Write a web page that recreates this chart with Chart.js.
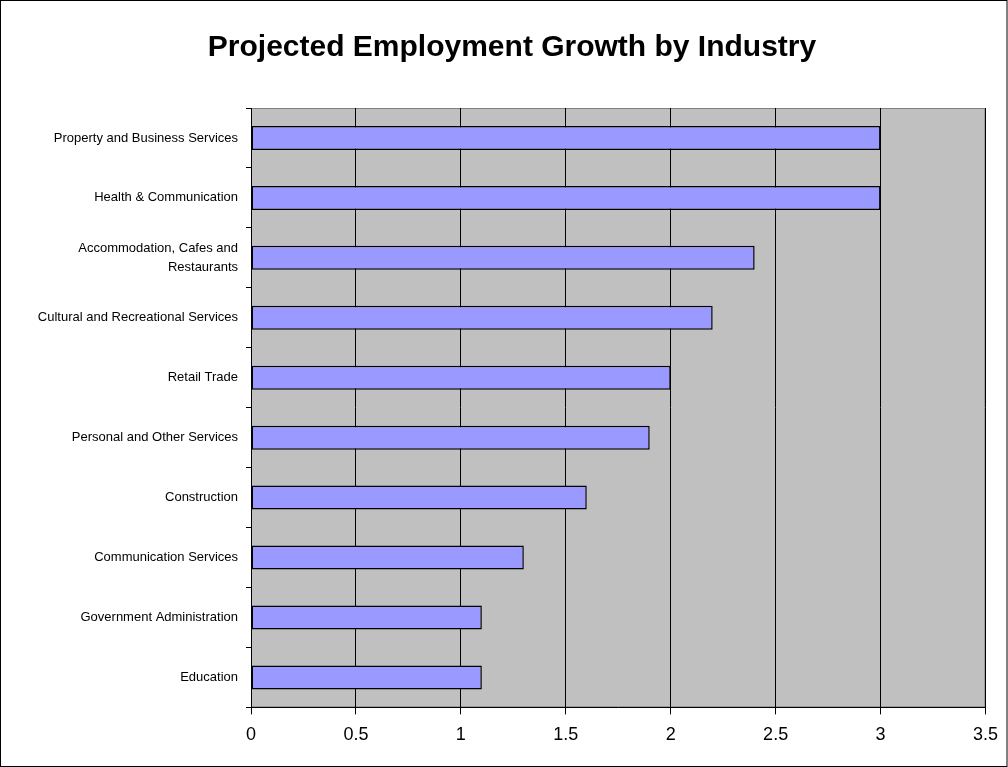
<!DOCTYPE html>
<html>
<head>
<meta charset="utf-8">
<script src="https://cdn.jsdelivr.net/npm/chart.js@4"></script>
<style>
  html, body { margin: 0; padding: 0; background: #fff; }
  #wrap { width: 1008px; height: 767px; }
</style>
</head>
<body>
<div id="wrap"><canvas id="chartGrowth" width="1008" height="767"></canvas></div>
<script>
'use strict';

const industries = [
  'Property and Business Services',
  'Health & Communication',
  ['Accommodation, Cafes and', 'Restaurants'],
  'Cultural and Recreational Services',
  'Retail Trade',
  'Personal and Other Services',
  'Construction',
  'Communication Services',
  'Government Administration',
  'Education'
];
const growth = [3, 3, 2.4, 2.2, 2, 1.9, 1.6, 1.3, 1.1, 1.1];
const xTicks = [0, 0.5, 1, 1.5, 2, 2.5, 3, 3.5];

// gray plot area + frame around the whole figure
const plotBackground = {
  id: 'plotBackground',
  beforeDraw: function(chart) {
    const ctx = chart.ctx;
    const a = chart.chartArea;
    ctx.save();
    ctx.fillStyle = '#c0c0c0';
    ctx.fillRect(a.left, a.top, a.right - a.left, a.bottom - a.top);
    ctx.strokeStyle = '#808080';
    ctx.lineWidth = 1;
    ctx.strokeRect(a.left + 0.5, a.top + 0.5, a.right - a.left - 1, a.bottom - a.top - 1);
    ctx.strokeStyle = '#000';
    ctx.strokeRect(0.5, 0.5, chart.width - 1.5, chart.height - 1);
    ctx.restore();
  }
};

const config = {
  type: 'bar',
  data: {
    labels: industries,
    datasets: [{
      label: 'Growth',
      data: growth,
      backgroundColor: '#9999ff',
      borderColor: '#000',
      borderWidth: 1.5,
      borderSkipped: false,
      categoryPercentage: 1,
      barPercentage: 0.4
    }]
  },
  options: {
    indexAxis: 'y',
    responsive: false,
    animation: false,
    layout: {
      padding: { left: 38, right: 22, top: 0, bottom: 11 }
    },
    plugins: {
      legend: { display: false },
      tooltip: { enabled: false },
      title: {
        display: true,
        text: 'Projected Employment Growth by Industry',
        color: '#000',
        font: { family: 'Liberation Sans, Arial, sans-serif', size: 30, weight: 'bold' },
        padding: { top: 30, bottom: 42 }
      }
    },
    scales: {
      x: {
        min: 0,
        max: 3.5,
        afterBuildTicks: function(scale) {
          scale.ticks = xTicks.map(v => ({ value: v }));
        },
        ticks: {
          color: '#000',
          padding: 10,
          font: { family: 'Liberation Sans, Arial, sans-serif', size: 18 },
          callback: function(v) { return String(v); }
        },
        grid: {
          color: '#000',
          lineWidth: 1,
          tickLength: 7,
          drawOnChartArea: true
        },
        border: { color: '#000', width: 1 }
      },
      y: {
        offset: true,
        afterFit: function(scale) { scale.width = 213; },
        ticks: {
          color: '#000',
          padding: 8,
          font: { family: 'Liberation Sans, Arial, sans-serif', size: 13, lineHeight: 1.4 }
        },
        grid: {
          offset: true,
          color: '#000',
          drawOnChartArea: false,
          tickLength: 5
        },
        border: { color: '#000', width: 1 }
      }
    }
  },
  plugins: [plotBackground]
};

const chartGrowth = new Chart(document.getElementById('chartGrowth'), config);
</script>
</body>
</html>
